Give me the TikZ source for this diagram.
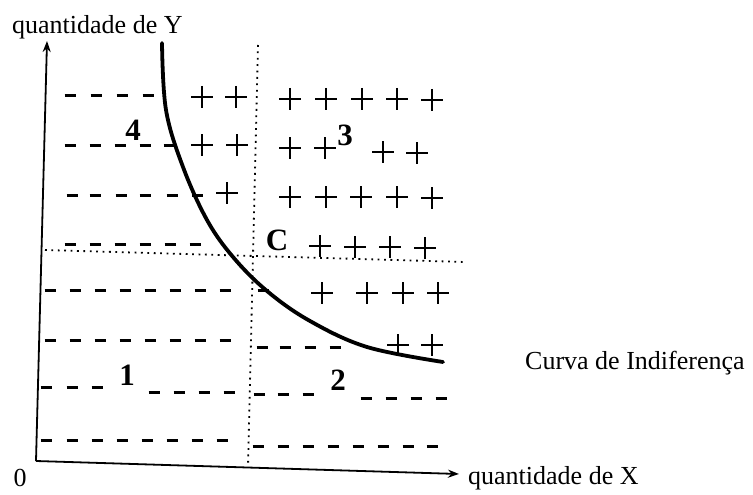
\documentclass[tikz,border=0pt]{standalone}
\usepackage{fontspec}
\setmainfont{Liberation Serif}
\usetikzlibrary{arrows.meta,positioning}

\begin{document}
\begin{tikzpicture}[
    x=1pt, y=-1pt,
    >={Stealth[length=11pt,width=8pt]},
    axislabel/.style={font=\fontsize{26}{30}\selectfont, inner sep=0pt},
    region/.style={font=\fontsize{31}{36}\selectfont\bfseries, inner sep=0pt},
    guide/.style={dash pattern=on 1.8pt off 4.6pt, line width=1.8pt},
    dashmark/.pic={\draw[line width=3pt] (-5.5,0) -- (5.5,0);},
    plusmark/.pic={\draw[line width=1.5pt] (-11,0) -- (11,0) (0,-11) -- (0,11);},
]
\useasboundingbox (0,0) rectangle (753,495);

% Axes
\coordinate (origin) at (36,461);
\coordinate (ytip) at (47,41);
\coordinate (xtip) at (459,474);
\draw[line width=1.8pt, ->] (origin) -- (ytip);
\draw[line width=1.8pt, ->] (origin) -- (xtip);

% Guide lines through C
\coordinate (vtop) at (258,45);
\coordinate (vbot) at (248,467);
\coordinate (hleft) at (45,250);
\coordinate (hright) at (465,262);
\draw[guide] (vtop) -- (vbot);
\draw[guide] (hleft) -- (hright);

% Indifference curve
\draw[line width=3.8pt, line cap=round] plot[smooth, tension=0.6] coordinates {(162,43) (166,110) (183,167) (207,220) (233,257) (267,291) (310,321) (367,347) (443,362)};

% Minus marks, row by row
\foreach \x in {70,96,122,148} \pic at (\x,96) {dashmark};
\foreach \x in {70,95,120,145,169} \pic at (\x,145) {dashmark};
\foreach \x in {72,95,121,145,172,197} \pic at (\x,195) {dashmark};
\foreach \x in {70,95,120,145,170,195} \pic at (\x,244) {dashmark};
\foreach \x in {50,75,100,125,150,175,200,225,263} \pic at (\x,290) {dashmark};
\foreach \x in {50,75,100,125,150,175,200,225} \pic at (\x,340) {dashmark};
\foreach \x in {262,285,310,335} \pic at (\x,347) {dashmark};
\foreach \x in {46,72,97} \pic at (\x,387) {dashmark};
\foreach \x in {154,179,204,229} \pic at (\x,392) {dashmark};
\foreach \x in {259,283,308} \pic at (\x,394) {dashmark};
\foreach \x in {366,391,416,441} \pic at (\x,398) {dashmark};
\foreach \x in {46,72,97,122,147,172,197,222} \pic at (\x,440) {dashmark};
\foreach \x in {258,283,308,333,358,383,408,432} \pic at (\x,446) {dashmark};

% Plus marks
\foreach \x/\y in {202/97,236/97,290/99,326/99,362/99,397/99,432/100,
                   202/145,237/145,290/148,325/148,383/152,417/153,
                   227/193,290/197,326/197,361/197,397/197,432/198,
                   320/246,355/247,390/247,425/248,
                   322/293,367/293,403/293,438/293,
                   398/345,432/345}
  \pic at (\x,\y) {plusmark};

% Region labels
\node[region] (r4) at (133,130) {4};
\node[region] (r3) at (345,135) {3};
\node[region] (pc) at (277,240) {C};
\node[region] (r1) at (127,375) {1};
\node[region] (r2) at (338,380) {2};

% Axis labels
\node[axislabel, anchor=west] (ylabel) at (12,27) {quantidade de Y};
\node[axislabel, anchor=west] (xlabel) at (468,478) {quantidade de X};
\node[axislabel] (zero) at (20,478) {0};
\node[axislabel, anchor=west] (curvelabel) at (525,363) {Curva de Indiferença};

\end{tikzpicture}
\end{document}
